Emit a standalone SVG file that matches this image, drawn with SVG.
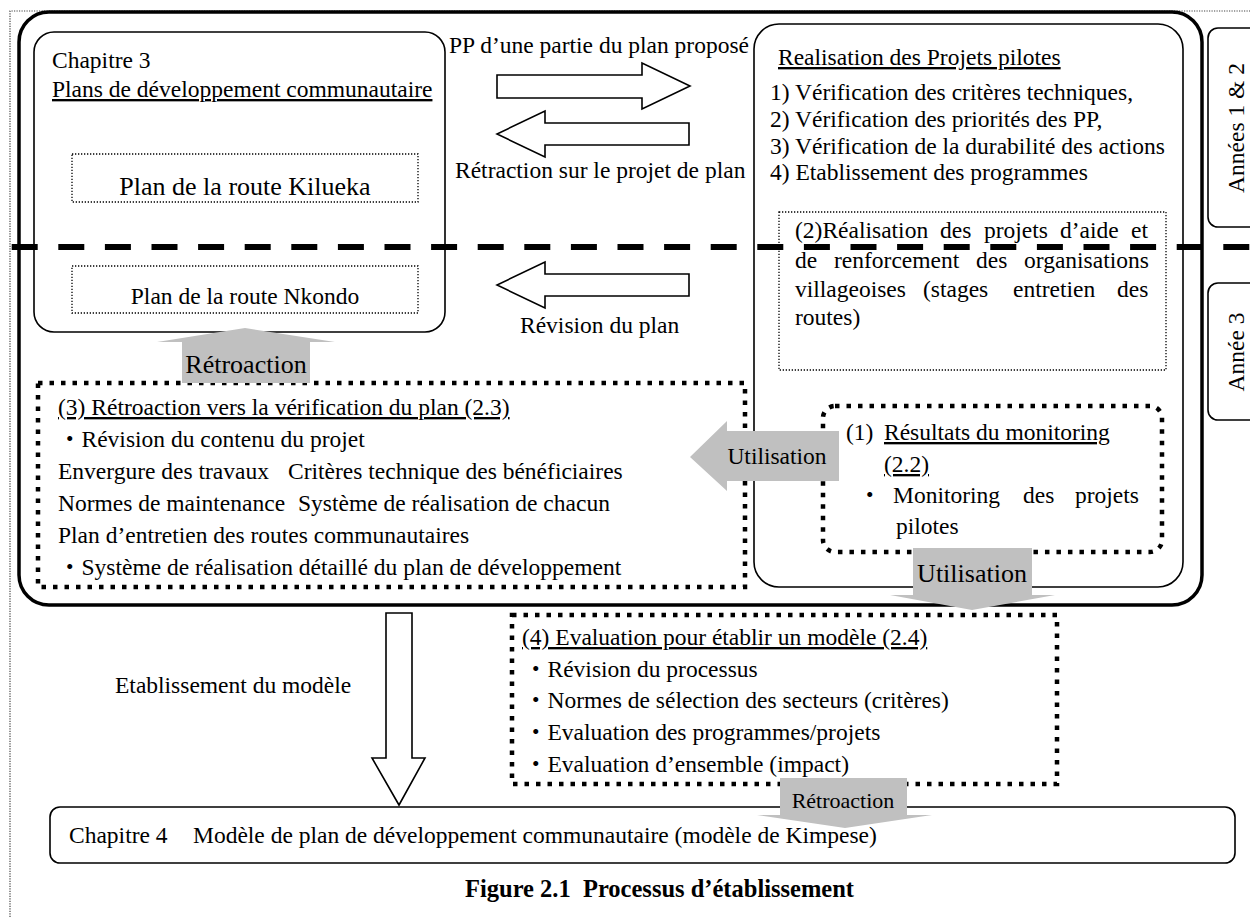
<svg xmlns="http://www.w3.org/2000/svg" width="1250" height="917" viewBox="0 0 1250 917">
<style>
.t{font-family:"Liberation Serif","Times New Roman","Noto Sans CJK JP",serif;font-size:23.5px;fill:#000}
.u{text-decoration:underline}
.b{font-weight:bold}
.box{fill:#fff;stroke:#000;stroke-width:1.6}
.dot{fill:none;stroke:#000;stroke-width:1.3;stroke-dasharray:1.3 1.7}
.tdot{fill:none;stroke:#000;stroke-width:4.5;stroke-dasharray:4.5 7}
.gray{fill:#c0c0c0}
.war{fill:#fff;stroke:#000;stroke-width:1.6;stroke-linejoin:miter}
</style>
<rect width="1250" height="917" fill="#fff"/>
<g id="frame">
<path d="M10,917 V11 H1250" fill="none" stroke="#444" stroke-width="1.2" stroke-dasharray="1.2 1.3"/>
<rect x="19" y="12" width="1183" height="593" rx="30" fill="none" stroke="#000" stroke-width="3.5"/>
</g>
<g id="tab-annees12">
<rect x="1208" y="28" width="70" height="199" rx="10" class="box"/>
<text class="t" transform="translate(1244,128) rotate(-90)" text-anchor="middle">Années 1 &amp; 2</text>
</g>
<g id="tab-annee3">
<rect x="1208" y="283" width="70" height="137" rx="10" class="box"/>
<text class="t" transform="translate(1244,352) rotate(-90)" text-anchor="middle">Année 3</text>
</g>
<g id="node-chapitre3">
<rect x="34" y="32" width="411" height="300" rx="20" class="box"/>
<text class="t" x="52" y="68">Chapitre 3</text>
<text class="t u" x="52" y="97">Plans de développement communautaire</text>
</g>
<g id="node-kilueka">
<rect x="72" y="154" width="346" height="48" class="dot"/>
<text class="t" x="245" y="195" text-anchor="middle" style="font-size:26px">Plan de la route Kilueka</text>
</g>
<g id="node-nkondo">
<rect x="72" y="266" width="346" height="47" class="dot"/>
<text class="t" x="245" y="304" text-anchor="middle">Plan de la route Nkondo</text>
</g>
<g id="node-realisation">
<rect x="754" y="24" width="429" height="563" rx="25" class="box"/>
<text class="t u" x="778" y="65">Realisation des Projets pilotes</text>
<text class="t" x="770" y="100">1) Vérification des critères techniques,</text>
<text class="t" x="770" y="127">2) Vérification des priorités des PP,</text>
<text class="t" x="770" y="154">3) Vérification de la durabilité des actions</text>
<text class="t" x="770" y="180">4) Etablissement des programmes</text>
</g>
<g id="node-organisations">
<rect x="779" y="212" width="387" height="158" class="dot"/>
<text class="t" y="238"><tspan x="795">(2)Réalisation</tspan><tspan x="940">des</tspan><tspan x="984">projets</tspan><tspan x="1060">d’aide</tspan><tspan x="1131">et</tspan></text>
<text class="t" y="268"><tspan x="795">de</tspan><tspan x="834">renforcement</tspan><tspan x="976">des</tspan><tspan x="1024">organisations</tspan></text>
<text class="t" y="297"><tspan x="795">villageoises</tspan><tspan x="923">(stages</tspan><tspan x="1013">entretien</tspan><tspan x="1117">des</tspan></text>
<text class="t" x="795" y="325">routes)</text>
</g>
<g id="node-retroaction">
<rect x="38" y="383" width="707" height="204" class="tdot"/>
<text class="t u" x="58" y="415">(3) Rétroaction vers la vérification du plan (2.3)</text>
<text class="t" x="58" y="447">・Révision du contenu du projet</text>
<text class="t" y="479"><tspan x="58">Envergure des travaux</tspan><tspan x="288">Critères technique des bénéficiaires</tspan></text>
<text class="t" y="511"><tspan x="58">Normes de maintenance</tspan><tspan x="298">Système de réalisation de chacun</tspan></text>
<text class="t" x="58" y="543">Plan d’entretien des routes communautaires</text>
<text class="t" x="58" y="575">・Système de réalisation détaillé du plan de développement</text>
</g>
<g id="node-monitoring">
<rect x="823" y="406" width="339" height="146" rx="12" class="tdot"/>
<text class="t" x="846" y="440">(1)</text>
<text class="t u" x="884" y="440">Résultats du monitoring</text>
<text class="t u" x="884" y="472">(2.2)</text>
<text class="t" y="503"><tspan x="858">・</tspan><tspan x="893">Monitoring</tspan><tspan x="1023">des</tspan><tspan x="1075">projets</tspan></text>
<text class="t" x="896" y="534">pilotes</text>
</g>
<g id="node-evaluation">
<rect x="512" y="615" width="545" height="169" class="tdot"/>
<text class="t u" x="522" y="645">(4) Evaluation pour établir un modèle (2.4)</text>
<text class="t" x="524" y="677">・Révision du processus</text>
<text class="t" x="524" y="708">・Normes de sélection des secteurs (critères)</text>
<text class="t" x="524" y="740">・Evaluation des programmes/projets</text>
<text class="t" x="524" y="772">・Evaluation d’ensemble (impact)</text>
</g>
<g id="node-chapitre4">
<rect x="50" y="807" width="1185" height="56" rx="10" class="box"/>
<text class="t" y="843"><tspan x="69">Chapitre 4</tspan><tspan x="193">Modèle de plan de développement communautaire (modèle de Kimpese)</tspan></text>
</g>
<g id="connectors">
<polygon class="war" points="497,75 642,75 642,63 690,86 642,109 642,98 497,98"/>
<text class="t" x="449" y="53">PP d’une partie du plan proposé</text>
<polygon class="war" points="689,123 545,123 545,111 497,134 545,157 545,145 689,145"/>
<text class="t" x="455" y="178">Rétraction sur le projet de plan</text>
<polygon class="war" points="689,274 545,274 545,262 497,285 545,308 545,296 689,296"/>
<text class="t" x="520" y="333">Révision du plan</text>
<polygon class="war" points="386,613 412,613 412,758 425,758 399,805 372,758 386,758"/>
<text class="t" x="115" y="693">Etablissement du modèle</text>
<polygon class="gray" points="245,328 335,342 310,342 310,383 182,383 182,342 157,342"/>
<text class="t" x="246" y="373" text-anchor="middle" style="font-size:26px">Rétroaction</text>
<polygon class="gray" points="690,457 727,421 727,431 839,431 839,481 727,481 727,491"/>
<text class="t" x="777" y="464" text-anchor="middle">Utilisation</text>
<polygon class="gray" points="913,548 1032,548 1032,595 1055,595 972,610 890,595 913,595"/>
<text class="t" x="972" y="582" text-anchor="middle" style="font-size:26px">Utilisation</text>
<polygon class="gray" points="780,778 907,778 907,815 932,815 845,828 757,815 780,815"/>
<text class="t" x="843" y="808" text-anchor="middle" style="font-size:22px">Rétroaction</text>
</g>
<line x1="11.7" y1="247" x2="1250" y2="247" stroke="#000" stroke-width="6" stroke-dasharray="26 20.6"/>
<text class="t b" x="465" y="897" xml:space="preserve" style="font-size:24.5px;white-space:pre">Figure 2.1  Processus d’établissement</text>
</svg>
